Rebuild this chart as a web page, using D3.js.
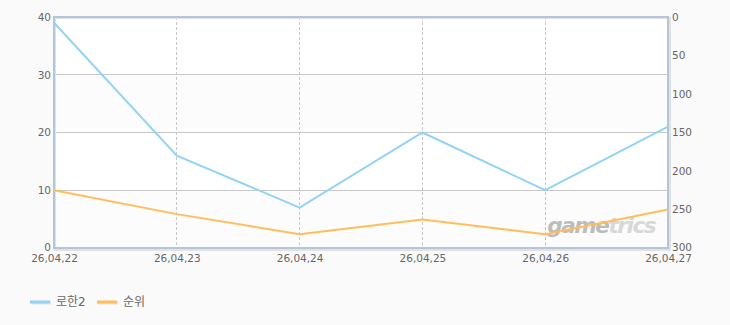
<!DOCTYPE html>
<html>
<head>
<meta charset="utf-8">
<script src="https://cdn.jsdelivr.net/npm/d3@7"></script>
<style>
  body { margin: 0; background: #fafafa; }
  text { font-family: "DejaVu Sans", "Noto Sans CJK KR", sans-serif; }
</style>
</head>
<body>
<div id="chart"></div>
<script>
// Data
var dates = ["26,04,22", "26,04,23", "26,04,24", "26,04,25", "26,04,26", "26,04,27"];
var rohan2 = [39, 16, 7, 20, 10, 21];          // left axis
var rank = [225, 256, 282, 263, 282, 250];      // right axis (reversed)
var leftTicks = [0, 10, 20, 30, 40];
var rightTicks = [0, 50, 100, 150, 200, 250, 300];
var seriesNames = ["로한2", "순위"];
var seriesColors = ["#94d3f3", "#ffbe5c"];

var W = 730, H = 325;
var margin = {top: 17, right: 62, bottom: 77, left: 54},
    width = W - margin.left - margin.right,
    height = H - margin.top - margin.bottom;

var root = d3.select("#chart").append("svg")
    .attr("width", W).attr("height", H);

var svg = root.append("g")
    .attr("transform", "translate(" + margin.left + "," + margin.top + ")");

var x = d3.scalePoint().domain(dates).range([0, width]);
var yLeft = d3.scaleLinear().domain([0, 40]).range([height, 0]);
var yRight = d3.scaleLinear().domain([0, 300]).range([0, height]);

// Alternating background bands
svg.selectAll(".band")
  .data(d3.range(0, 40, 10))
  .enter().append("rect")
    .attr("x", 0)
    .attr("y", function(d) { return yLeft(d + 10); })
    .attr("width", width)
    .attr("height", function(d) { return yLeft(d) - yLeft(d + 10); })
    .attr("fill", function(d) { return (d / 10) % 2 == 0 ? "#fcfcfc" : "#ffffff"; });

// Horizontal grid lines
svg.selectAll(".hgrid")
  .data(leftTicks.slice(1, -1))
  .enter().append("line")
    .attr("x1", 0).attr("x2", width)
    .attr("y1", function(d) { return yLeft(d); })
    .attr("y2", function(d) { return yLeft(d); })
    .attr("stroke", "#c8c8c8").attr("stroke-width", 1)
    .attr("shape-rendering", "crispEdges");

// Vertical dashed grid lines
svg.selectAll(".vgrid")
  .data(dates.slice(1, -1))
  .enter().append("line")
    .attr("x1", function(d) { return x(d); })
    .attr("x2", function(d) { return x(d); })
    .attr("y1", 0).attr("y2", height)
    .attr("stroke", "#c8c8c8").attr("stroke-width", 1)
    .attr("stroke-dasharray", "3,2")
    .attr("shape-rendering", "crispEdges");

// Watermark
var wm = svg.append("text")
    .attr("x", x(dates[4]) + 2)
    .attr("y", yLeft(0) - 15)
    .attr("font-family", "DejaVu Sans")
    .attr("font-size", 22)
    .attr("font-style", "italic")
    .attr("font-weight", "bold")
    .attr("letter-spacing", -1.5)
    .attr("textLength", 108)
    .attr("lengthAdjust", "spacingAndGlyphs");
wm.append("tspan").attr("fill", "#bcbcbc").text("game");
wm.append("tspan").attr("fill", "#d8d8d8").text("trics");

// Plot border with soft shadow
svg.append("rect")
    .attr("x", 1).attr("y", 1)
    .attr("width", width + 1).attr("height", height + 1)
    .attr("fill", "none").attr("stroke", "#e2e2e2").attr("stroke-width", 2);
svg.append("rect")
    .attr("x", 0).attr("y", 0)
    .attr("width", width).attr("height", height)
    .attr("fill", "none").attr("stroke", "#b3c6d9").attr("stroke-width", 2);

// Lines
var lineLeft = d3.line()
    .x(function(d, i) { return x(dates[i]); })
    .y(function(d) { return yLeft(d); });
var lineRight = d3.line()
    .x(function(d, i) { return x(dates[i]); })
    .y(function(d) { return yRight(d); });

svg.append("path")
    .datum(rohan2)
    .attr("fill", "none")
    .attr("stroke", seriesColors[0])
    .attr("stroke-width", 2)
    .attr("d", lineLeft);

svg.append("path")
    .datum(rank)
    .attr("fill", "none")
    .attr("stroke", seriesColors[1])
    .attr("stroke-width", 2)
    .attr("d", lineRight);

// Axes (labels only)
var axL = svg.append("g")
    .call(d3.axisLeft(yLeft).tickValues(leftTicks).tickSize(0).tickPadding(3));
var axR = svg.append("g")
    .attr("transform", "translate(" + width + ",0)")
    .call(d3.axisRight(yRight).tickValues(rightTicks).tickSize(0).tickPadding(4));
var axB = svg.append("g")
    .attr("transform", "translate(0," + height + ")")
    .call(d3.axisBottom(x).tickSize(0).tickPadding(7));

[axL, axR, axB].forEach(function(ax) {
  ax.select(".domain").remove();
  ax.selectAll("text")
    .attr("fill", "#666")
    .attr("font-size", 10.5)
    .attr("font-family", "DejaVu Sans, sans-serif");
});
// nudge the zero labels up a touch so they clear the date labels
axL.selectAll("text").filter(function(d) { return d === 0; }).attr("dy", "0.2em");
axR.selectAll("text").filter(function(d) { return d === 300; }).attr("dy", "0.2em");

// Legend
var legend = root.append("g")
    .attr("transform", "translate(30,302)");
var item = legend.selectAll(".item")
  .data(seriesNames)
  .enter().append("g")
    .attr("transform", function(d, i) { return "translate(" + (i * 67) + ",0)"; });
item.append("rect")
    .attr("x", 1).attr("y", -0.5)
    .attr("width", 20).attr("height", 3)
    .attr("fill", "#e4e4e4");
item.append("rect")
    .attr("x", 0).attr("y", -1.5)
    .attr("width", 20).attr("height", 3)
    .attr("fill", function(d, i) { return seriesColors[i]; });
item.append("text")
    .attr("x", 26).attr("y", 4)
    .attr("fill", "#666")
    .attr("font-size", 12)
    .attr("font-family", "Noto Sans CJK KR, sans-serif")
    .text(function(d) { return d; });
</script>
</body>
</html>
